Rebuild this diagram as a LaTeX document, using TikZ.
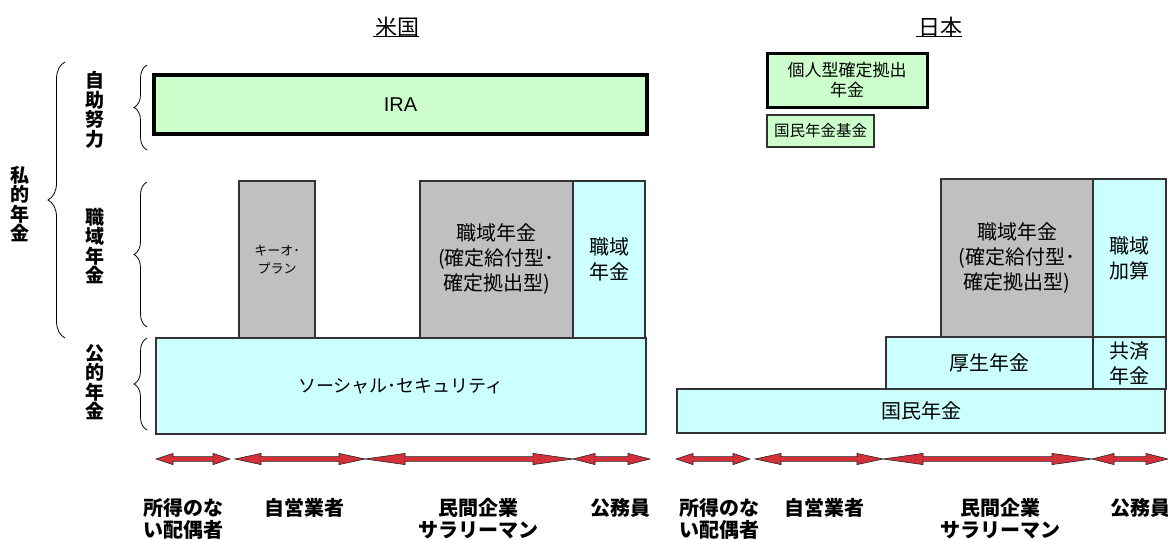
\documentclass[tikz,border=0pt]{standalone}
\usepackage{fontspec}
\setmainfont{Noto Sans CJK JP}
\newfontfamily\latinsans{Liberation Sans}
\usetikzlibrary{decorations.pathreplacing}
\definecolor{boxgreen}{HTML}{CCFFCC}
\definecolor{boxcyan}{HTML}{CCFFFF}
\definecolor{boxgray}{HTML}{C0C0C0}
\definecolor{arrowred}{HTML}{D4303A}
\definecolor{edge}{HTML}{333333}
\newcommand\rbox[6]{\node[#1, minimum width={#4-#2}, minimum height={#5-#3}] (#6) at ({(#2+#4)/2},{(#3+#5)/2})}
\newcommand\dblarrow[3]{\filldraw[arrowstyle] (#1,459) -- ({#1+#3},453.4) -- ({#1+#3},456.6) -- ({#2-#3},456.6) -- ({#2-#3},453.4) -- (#2,459) -- ({#2-#3},464.6) -- ({#2-#3},461.4) -- ({#1+#3},461.4) -- ({#1+#3},464.6) -- cycle;}
\tikzset{
  box/.style={draw=edge, line width=1.2pt, inner sep=0pt, align=center, font=\fontsize{20}{25}\selectfont},
  cyanbox/.style={box, fill=boxcyan},
  graybox/.style={box, fill=boxgray},
  greenbox/.style={box, fill=boxgreen},
  thickgreen/.style={greenbox, draw=black, line width=3.5pt},
  arrowstyle/.style={fill=arrowred, draw=black!85, line width=0.6pt, line join=miter},
  lab/.style={inner sep=0pt, align=center, font=\bfseries\fontsize{20}{22}\selectfont},
  vlab/.style={inner sep=0pt, align=center, font=\bfseries\fontsize{19}{19.5}\selectfont},
  title/.style={inner sep=0pt, font=\fontsize{22}{22}\selectfont},
  bracestyle/.style={decorate, decoration={brace, amplitude=#1}, line width=0.8pt}
}
\begin{document}
\begin{tikzpicture}[x=1pt, y=-1pt]
\useasboundingbox (0,0) rectangle (1168,539);
% titles
\node[title] (us) at (397,27) {米国};
\draw[line width=1.5pt] ([yshift=-1pt,xshift=-2pt]us.base west) -- ([yshift=-1pt]us.base east);
\node[title] (jp) at (940,27) {日本};
\draw[line width=1.5pt] ([yshift=-1pt,xshift=-2pt]jp.base west) -- ([yshift=-1pt]jp.base east);
% left labels and braces
\node[vlab] (shiteki) at (20,204) {私\\的\\年\\金};
\draw[bracestyle=17pt] (65,338) -- (65,62);
\node[vlab] (jijo) at (95,110) {自\\助\\努\\力};
\draw[bracestyle=13pt] (147,150) -- (147,65);
\node[vlab] (shokuiki) at (95,246) {職\\域\\年\\金};
\draw[bracestyle=13pt] (147,327) -- (147,182);
\node[vlab] (koteki) at (95,382) {公\\的\\年\\金};
\draw[bracestyle=13pt] (147,430) -- (147,338);
% US boxes
\rbox{thickgreen, font=\latinsans\fontsize{20}{24}\selectfont}{154}{75}{647}{134}{ira} {IRA};
\rbox{graybox, font=\fontsize{13}{18}\selectfont}{239}{181}{315}{338}{keogh} {キーオ･\\プラン};
\rbox{graybox}{420}{181}{573}{338}{usdb} {職域年金\\(確定給付型･\\確定拠出型)};
\rbox{cyanbox}{573}{181}{645}{338}{usgov} {職域\\年金};
\rbox{cyanbox, font=\fontsize{18}{20}\selectfont}{156}{338}{646}{434}{ss} {ソーシャル･セキュリティ};
% Japan boxes
\rbox{thickgreen, line width=3pt, font=\fontsize{17}{20}\selectfont}{767}{53}{927}{107}{ideco} {個人型確定拠出\\年金};
\rbox{greenbox, font=\fontsize{15.5}{18}\selectfont}{767}{115}{874}{147}{kikin} {国民年金基金};
\rbox{graybox}{941}{179}{1093}{337}{jpdb} {職域年金\\(確定給付型･\\確定拠出型)};
\rbox{cyanbox}{1093}{179}{1166}{337}{jpgov} {職域\\加算};
\rbox{cyanbox}{886}{337}{1093}{389}{kosei} {厚生年金};
\rbox{cyanbox}{1093}{337}{1166}{389}{kyosai} {共済\\年金};
\rbox{cyanbox}{677}{389}{1165}{433}{kokumin} {国民年金};
% arrows
\dblarrow{156}{230}{17}
\dblarrow{235}{365}{26}
\dblarrow{365}{573}{40}
\dblarrow{573}{650}{22}
\dblarrow{676}{750}{17}
\dblarrow{755}{883}{26}
\dblarrow{883}{1092}{40}
\dblarrow{1092}{1168}{22}
% bottom labels
\node[lab] (usnone) at (183,519) {所得のな\\い配偶者};
\node[lab] (usself) at (304,508) {自営業者};
\node[lab] (usemp) at (478,519) {民間企業\\サラリーマン};
\node[lab] (uspub) at (620,508) {公務員};
\node[lab] (jpnone) at (719,519) {所得のな\\い配偶者};
\node[lab] (jpself) at (824,508) {自営業者};
\node[lab] (jpemp) at (1000,519) {民間企業\\サラリーマン};
\node[lab] (jppub) at (1140,508) {公務員};
\end{tikzpicture}
\end{document}
